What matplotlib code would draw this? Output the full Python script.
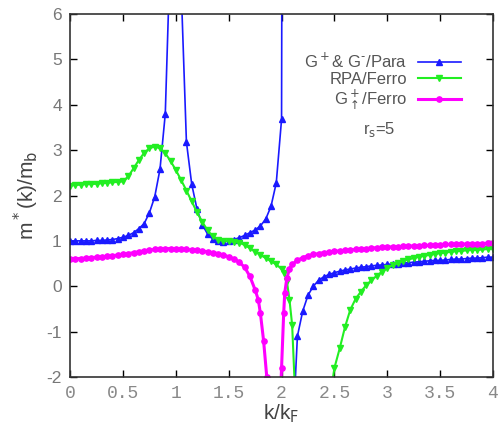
import matplotlib.pyplot as plt
from matplotlib.ticker import FixedLocator

plt.rcParams['axes.unicode_minus'] = False

# G+ & G-/Para, split at the pole near k = 2.05
k_para_a = [0.00, 0.05, 0.10, 0.15, 0.20, 0.25, 0.30, 0.35, 0.40, 0.45,
            0.50, 0.55, 0.60, 0.65, 0.70, 0.75, 0.80, 0.85, 0.90, 0.95,
            1.00, 1.05, 1.10, 1.15, 1.20, 1.25, 1.30, 1.35, 1.40, 1.45,
            1.50, 1.55, 1.60, 1.65, 1.70, 1.75, 1.80, 1.85, 1.90, 1.95,
            2.00, 2.05]
m_para_a = [1.00, 1.00, 1.00, 1.00, 1.00, 1.01, 1.01, 1.02, 1.03, 1.05,
            1.08, 1.12, 1.18, 1.27, 1.38, 1.62, 1.97, 2.58, 3.80, 7.60,
            40.0, 6.60, 3.18, 2.25, 1.70, 1.36, 1.15, 1.04, 0.99, 0.98,
            1.00, 1.03, 1.07, 1.12, 1.18, 1.24, 1.33, 1.48, 1.76, 2.28,
            3.68, 60.0]
k_para_b = [2.10, 2.15, 2.20, 2.25, 2.30, 2.35, 2.40, 2.45, 2.50, 2.55,
            2.60, 2.65, 2.70, 2.75, 2.80, 2.85, 2.90, 2.95, 3.00, 3.05,
            3.10, 3.15, 3.20, 3.25, 3.30, 3.35, 3.40, 3.45, 3.50, 3.55,
            3.60, 3.65, 3.70, 3.75, 3.80, 3.85, 3.90, 3.95, 4.00]
m_para_b = [-3.5, -1.10, -0.55, -0.20, 0.00, 0.13, 0.21, 0.26, 0.30, 0.33,
            0.36, 0.38, 0.40, 0.42, 0.43, 0.45, 0.46, 0.47, 0.48, 0.49,
            0.50, 0.51, 0.52, 0.53, 0.54, 0.55, 0.56, 0.57, 0.57, 0.58,
            0.59, 0.60, 0.60, 0.61, 0.62, 0.62, 0.63, 0.64, 0.64]

# RPA/Ferro
k_rpa = [0.00, 0.05, 0.10, 0.15, 0.20, 0.25, 0.30, 0.35, 0.40, 0.45,
         0.50, 0.55, 0.60, 0.65, 0.70, 0.75, 0.80, 0.85, 0.90, 0.95,
         1.00, 1.05, 1.10, 1.15, 1.20, 1.25, 1.30, 1.35, 1.40, 1.45,
         1.50, 1.55, 1.60, 1.65, 1.70, 1.75, 1.80, 1.85, 1.90, 1.95,
         2.00, 2.025, 2.05, 2.075, 2.10, 2.125, 2.15,
         2.45, 2.50, 2.55, 2.60, 2.65, 2.70, 2.75, 2.80, 2.85, 2.90, 2.95,
         3.00, 3.05, 3.10, 3.15, 3.20, 3.25, 3.30, 3.35, 3.40, 3.45,
         3.50, 3.55, 3.60, 3.65, 3.70, 3.75, 3.80, 3.85, 3.90, 3.95, 4.00]
m_rpa = [2.22, 2.23, 2.24, 2.25, 2.25, 2.26, 2.27, 2.28, 2.29, 2.30,
         2.31, 2.42, 2.60, 2.78, 2.94, 3.04, 3.08, 3.04, 2.93, 2.76,
         2.56, 2.34, 2.11, 1.87, 1.63, 1.42, 1.23, 1.10, 1.03, 1.00,
         0.99, 0.98, 0.96, 0.91, 0.84, 0.76, 0.69, 0.62, 0.55, 0.48,
         0.38, 0.30, 0.12, -0.30, -0.85, -2.2, -4.0,
         -2.6, -1.80, -1.37, -0.90, -0.52, -0.28, -0.12, 0.02, 0.13, 0.23, 0.32,
         0.40, 0.46, 0.51, 0.55, 0.59, 0.62, 0.65, 0.67, 0.69, 0.71,
         0.73, 0.74, 0.76, 0.77, 0.78, 0.79, 0.80, 0.80, 0.81, 0.82, 0.83]

# G+up/Ferro
k_up = [0.00, 0.05, 0.10, 0.15, 0.20, 0.25, 0.30, 0.35, 0.40, 0.45,
        0.50, 0.55, 0.60, 0.65, 0.70, 0.75, 0.80, 0.85, 0.90, 0.95,
        1.00, 1.05, 1.10, 1.15, 1.20, 1.25, 1.30, 1.35, 1.40, 1.45,
        1.50, 1.55, 1.60, 1.65, 1.70, 1.75, 1.78, 1.80, 1.83, 1.86,
        1.88, 1.93, 1.98, 2.00, 2.02, 2.03, 2.05, 2.075, 2.10, 2.15,
        2.20, 2.25, 2.30, 2.35, 2.40, 2.45, 2.50, 2.55, 2.60, 2.65,
        2.70, 2.75, 2.80, 2.85, 2.90, 2.95, 3.00, 3.05, 3.10, 3.15,
        3.20, 3.25, 3.30, 3.35, 3.40, 3.45, 3.50, 3.55, 3.60, 3.65,
        3.70, 3.75, 3.80, 3.85, 3.90, 3.95, 4.00]
m_up = [0.60, 0.61, 0.61, 0.62, 0.63, 0.64, 0.65, 0.66, 0.67, 0.69,
        0.70, 0.72, 0.74, 0.76, 0.78, 0.80, 0.81, 0.82, 0.83, 0.83,
        0.83, 0.82, 0.81, 0.80, 0.79, 0.78, 0.76, 0.74, 0.72, 0.69,
        0.65, 0.60, 0.53, 0.42, 0.22, -0.08, -0.30, -0.60, -1.20, -2.00,
        -3.50, -20.0, -3.00, -1.80, -0.60, -0.15, 0.18, 0.38, 0.48, 0.57,
        0.63, 0.67, 0.70, 0.72, 0.74, 0.75, 0.77, 0.78, 0.79, 0.80,
        0.81, 0.82, 0.83, 0.84, 0.85, 0.86, 0.86, 0.87, 0.87, 0.88,
        0.88, 0.89, 0.89, 0.90, 0.90, 0.91, 0.91, 0.92, 0.92, 0.92,
        0.93, 0.93, 0.94, 0.94, 0.94, 0.95, 0.95]

x_ticks = [0, 0.5, 1, 1.5, 2, 2.5, 3, 3.5, 4]
x_labels = ['0', '0.5', '1', '1.5', '2', '2.5', '3', '3.5', '4']
y_ticks = [-2, -1, 0, 1, 2, 3, 4, 5, 6]

blue = '#1a1aff'
green = '#22ee22'
magenta = '#ff00ff'

fig = plt.figure(figsize=(5.01, 4.25), dpi=100)
ax = fig.add_axes([0.14, 0.113, 0.844, 0.854])

ax.plot(k_para_a, m_para_a, '-', color=blue, lw=1.2, marker='^', ms=5,
        label=r'G$^+$& G$^{\text{-}}$/Para')
ax.plot(k_para_b, m_para_b, '-', color=blue, lw=1.2, marker='^', ms=5)
ax.plot(k_rpa, m_rpa, '-', color=green, lw=1.5, marker='v', ms=4.5,
        label='RPA/Ferro')
ax.plot(k_up, m_up, '-', color=magenta, lw=2.2, marker='o', ms=3.8,
        label=r'G$^+_{\uparrow}$/Ferro')

ax.set_xlim(0, 4)
ax.set_ylim(-2, 6)
ax.xaxis.set_major_locator(FixedLocator(x_ticks))
ax.set_xticklabels(x_labels, family='Liberation Mono', fontsize=13, color='#888888')
ax.set_yticks(y_ticks)
for t in ax.get_yticklabels():
    t.set_color('#777777')
    t.set_fontsize(12.5)
    t.set_family('Liberation Sans')
ax.tick_params(direction='in', top=True, right=True, length=5, width=1, pad=6)
for s in ax.spines.values():
    s.set_linewidth(1.2)
    s.set_color('#333333')

ax.set_xlabel(r'k/k$_{\rm F}$', fontsize=15, color='#444444', family='Liberation Sans',
              labelpad=0)
ax.set_ylabel(r'm$^*$(k)/m$_{\rm b}$', fontsize=15, color='#444444',
              family='Liberation Sans', labelpad=4)

leg = ax.legend(loc='upper right', bbox_to_anchor=(0.94, 0.915), frameon=False,
                markerfirst=False, handlelength=2.6, fontsize=12,
                labelspacing=0.05, handletextpad=0.6, borderaxespad=0)
for t in leg.get_texts():
    t.set_color('#555555')
    t.set_family('Liberation Sans')

ax.text(2.77, 3.45, r'r$_{\rm s}$=5', fontsize=12, color='#555555',
        family='Liberation Sans', va='center')

fig.savefig('out.png')
